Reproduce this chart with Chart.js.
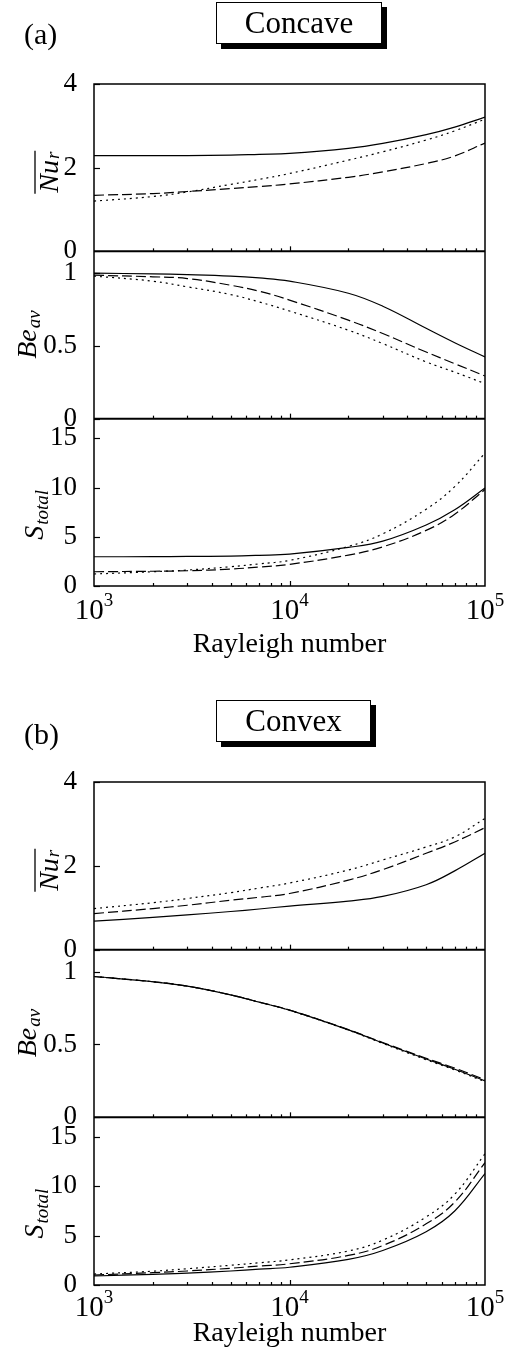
<!DOCTYPE html>
<html>
<head>
<meta charset="utf-8">
<script src="https://cdn.jsdelivr.net/npm/chart.js@4.4.0/dist/chart.umd.min.js"></script>
<style>
  body { margin: 0; background: #fff; width: 513px; height: 1357px; position: relative; overflow: hidden;
         font-family: 'Liberation Serif', 'Times New Roman', serif; color: #000; }
  .panel { position: absolute; left: 0; width: 513px; }
  .tag { position: absolute; left: 24px; font-size: 30px; line-height: 30px; }
  .box { position: absolute; left: 216px; height: 42px; line-height: 40px; border: 1px solid #000; background: #fff;
         box-shadow: 5px 5px 0 #000; font-size: 31px; text-align: center; box-sizing: border-box; }
</style>
</head>
<body>
<div class="panel" style="top:0;height:680px"><canvas id="chartA"></canvas></div>
<div class="panel" style="top:698px;height:659px"><canvas id="chartB"></canvas></div>
<div class="tag" style="top:19px">(a)</div>
<div class="box" style="top:2px;width:166px">Concave</div>
<div class="tag" style="top:719px">(b)</div>
<div class="box" style="top:700px;width:155px">Convex</div>

<script>
const rayleigh = [1000, 2000, 3000, 5000, 7000, 10000, 20000, 30000, 50000, 70000, 100000];

// (a) concave
const nuConcaveSolid  = [2.29, 2.29, 2.29, 2.30, 2.32, 2.34, 2.46, 2.58, 2.79, 2.97, 3.21];
const nuConcaveDashed = [1.34, 1.38, 1.43, 1.50, 1.55, 1.61, 1.77, 1.90, 2.10, 2.28, 2.59];
const nuConcaveDotted = [1.20, 1.31, 1.42, 1.60, 1.72, 1.86, 2.18, 2.38, 2.66, 2.88, 3.16];

const beConcaveSolid  = [1.00, 0.995, 0.99, 0.98, 0.967, 0.945, 0.862, 0.773, 0.621, 0.522, 0.424];
const beConcaveDashed = [0.986, 0.975, 0.963, 0.917, 0.876, 0.815, 0.677, 0.585, 0.458, 0.378, 0.293];
const beConcaveDotted = [0.98, 0.945, 0.906, 0.853, 0.802, 0.74, 0.608, 0.516, 0.39, 0.32, 0.241];

const sConcaveSolid  = [2.97, 2.98, 3.00, 3.04, 3.12, 3.24, 3.92, 4.56, 6.20, 7.75, 9.96];
const sConcaveDashed = [1.45, 1.50, 1.55, 1.72, 1.93, 2.20, 3.14, 3.98, 5.65, 7.30, 9.80];
const sConcaveDotted = [1.22, 1.45, 1.62, 1.96, 2.25, 2.60, 4.02, 5.30, 7.80, 10.1, 13.5];

// (b) convex
const nuConvexSolid  = [0.68, 0.77, 0.83, 0.91, 0.97, 1.04, 1.16, 1.27, 1.55, 1.88, 2.30];
const nuConvexDashed = [0.86, 0.98, 1.06, 1.18, 1.25, 1.34, 1.66, 1.91, 2.30, 2.57, 2.91];
const nuConvexDotted = [0.98, 1.12, 1.22, 1.36, 1.47, 1.59, 1.90, 2.14, 2.45, 2.69, 3.13];

const beConvexSolid  = [0.966, 0.93, 0.90, 0.84, 0.79, 0.735, 0.60, 0.51, 0.40, 0.33, 0.25];
const beConvexDashed = [0.966, 0.93, 0.90, 0.84, 0.79, 0.736, 0.602, 0.513, 0.405, 0.338, 0.258];
const beConvexDotted = [0.966, 0.93, 0.90, 0.84, 0.79, 0.734, 0.598, 0.507, 0.395, 0.325, 0.245];

const sConvexSolid  = [0.91, 1.08, 1.20, 1.42, 1.60, 1.80, 2.60, 3.50, 5.40, 7.50, 11.3];
const sConvexDashed = [1.01, 1.25, 1.42, 1.70, 1.92, 2.15, 3.00, 4.00, 6.20, 8.40, 12.4];
const sConvexDotted = [1.11, 1.40, 1.65, 2.00, 2.25, 2.55, 3.45, 4.55, 6.90, 9.20, 13.3];

// axis ticks
const xTickValues = [1000, 10000, 100000];
const yTicksNu = [0, 2, 4];
const yTicksBe = [0, 0.5, 1];
const yTicksS = [0, 5, 10, 15];

const serif = "'Liberation Serif', 'Times New Roman', serif";

// y titles: main text, subscript, overbar, baseline x, vertical shift, subscript shift
const yTitles = [
  { id: 'yNu', main: 'Nu', sub: 'r', bar: true, x: 58, dy: 5, subDy: 1 },
  { id: 'yBe', main: 'Be', sub: 'av', bar: false, x: 36, dy: 0, subDy: 4 },
  { id: 'yS', main: 'S', sub: 'total', bar: false, x: 43, dy: 13, subDy: 5 }
];

const axisDecor = {
  id: 'axisDecor',
  afterDraw(chart, args, o) {
    const ctx = chart.ctx;
    const a = chart.chartArea;
    const x = chart.scales.x;
    const ys = ['yNu', 'yBe', 'yS'].map(id => chart.scales[id]);
    ctx.save();
    ctx.strokeStyle = '#000';
    ctx.fillStyle = '#000';

    // inward ticks
    ctx.lineWidth = 1.2;
    ys.forEach(s => {
      s.ticks.forEach(t => {
        const py = Math.round(s.getPixelForValue(t.value)) + 0.5;
        ctx.beginPath(); ctx.moveTo(a.left, py); ctx.lineTo(a.left + 6, py); ctx.stroke();
      });
      for (let dec = 1000; dec < 100000; dec *= 10) {
        for (let m = 1; m < 10; m++) {
          const v = m * dec;
          if (v <= 1000) continue;
          const px = Math.round(x.getPixelForValue(v)) + 0.5;
          const len = m === 1 ? 5 : 3;
          ctx.beginPath(); ctx.moveTo(px, s.bottom); ctx.lineTo(px, s.bottom - len); ctx.stroke();
        }
      }
    });

    // frame and separators
    ctx.lineWidth = 1.5;
    ctx.strokeRect(a.left, a.top, a.right - a.left, a.bottom - a.top);
    ctx.lineWidth = 2;
    ys.slice(1).forEach(s => {
      ctx.beginPath(); ctx.moveTo(a.left, s.top); ctx.lineTo(a.right, s.top); ctx.stroke();
    });

    // x tick labels 10^n
    ctx.textBaseline = 'alphabetic';
    ctx.textAlign = 'left';
    xTickValues.forEach(v => {
      const exp = String(Math.round(Math.log10(v)));
      ctx.font = '29px ' + serif;
      const wb = ctx.measureText('10').width;
      ctx.font = '19px ' + serif;
      const we = ctx.measureText(exp).width;
      const x0 = x.getPixelForValue(v) - (wb + we) / 2;
      const base = a.bottom + o.tickY;
      ctx.font = '29px ' + serif;
      ctx.fillText('10', x0, base);
      ctx.font = '19px ' + serif;
      ctx.fillText(exp, x0 + wb, base - 13);
    });

    // x title
    ctx.font = '28px ' + serif;
    ctx.textAlign = 'center';
    ctx.fillText('Rayleigh number', (a.left + a.right) / 2, a.bottom + o.titleY);

    // y titles
    yTitles.forEach(t => {
      const s = chart.scales[t.id];
      ctx.save();
      ctx.translate(t.x, (s.top + s.bottom) / 2 + t.dy);
      ctx.rotate(-Math.PI / 2);
      ctx.textAlign = 'left';
      ctx.font = 'italic 28px ' + serif;
      const wm = ctx.measureText(t.main).width;
      ctx.font = 'italic 19px ' + serif;
      const ws = ctx.measureText(t.sub).width;
      const x0 = -(wm + ws) / 2;
      ctx.font = 'italic 28px ' + serif;
      ctx.fillText(t.main, x0, 0);
      ctx.font = 'italic 19px ' + serif;
      ctx.fillText(t.sub, x0 + wm + 1, t.subDy);
      if (t.bar) {
        ctx.lineWidth = 1.3;
        ctx.beginPath(); ctx.moveTo(x0 - 1, -23); ctx.lineTo(x0 + wm + ws + 2, -23); ctx.stroke();
      }
      ctx.restore();
    });
    ctx.restore();
  }
};

function line(data, axis, dash) {
  return {
    data: data,
    yAxisID: axis,
    borderColor: '#000',
    borderWidth: 1.2,
    borderDash: dash,
    pointRadius: 0,
    tension: 0.4,
    fill: false
  };
}

function yAxis(min, max, ticks, weight) {
  return {
    type: 'linear',
    position: 'left',
    stack: 'panel',
    stackWeight: 1,
    weight: weight,
    min: min,
    max: max,
    grid: { display: false },
    border: { display: false },
    ticks: {
      color: '#000',
      font: { family: serif, size: 27 },
      padding: 9,
      autoSkip: false,
      callback: v => String(v)
    },
    afterBuildTicks: s => { s.ticks = ticks.map(v => ({ value: v })); },
    afterFit: s => { s.width = 94; }
  };
}

function makePanel(id, nu, be, s, layout) {
  const solid = [], dashed = [10, 4], dotted = [2, 4];
  return new Chart(document.getElementById(id), {
    type: 'line',
    data: {
      labels: rayleigh,
      datasets: [
        line(nu[0], 'yNu', solid), line(nu[1], 'yNu', dashed), line(nu[2], 'yNu', dotted),
        line(be[0], 'yBe', solid), line(be[1], 'yBe', dashed), line(be[2], 'yBe', dotted),
        line(s[0], 'yS', solid), line(s[1], 'yS', dashed), line(s[2], 'yS', dotted)
      ]
    },
    options: {
      responsive: true,
      maintainAspectRatio: false,
      animation: false,
      events: [],
      layout: { padding: { top: 84, right: 28, left: 0, bottom: 0 } },
      scales: {
        x: {
          type: 'logarithmic',
          min: 1000,
          max: 100000,
          grid: { display: false },
          border: { display: false },
          ticks: { display: false },
          afterFit: sc => { sc.height = layout.xHeight; }
        },
        yNu: yAxis(0, 4, yTicksNu, 3),
        yBe: yAxis(0, 1.15, yTicksBe, 2),
        yS: yAxis(0, 17, yTicksS, 1)
      },
      plugins: {
        legend: { display: false },
        tooltip: { enabled: false },
        axisDecor: { tickY: layout.tickY, titleY: layout.titleY }
      }
    },
    plugins: [axisDecor]
  });
}

makePanel('chartA',
  [nuConcaveSolid, nuConcaveDashed, nuConcaveDotted],
  [beConcaveSolid, beConcaveDashed, beConcaveDotted],
  [sConcaveSolid, sConcaveDashed, sConcaveDotted],
  { xHeight: 94, tickY: 33, titleY: 66 });

makePanel('chartB',
  [nuConvexSolid, nuConvexDashed, nuConvexDotted],
  [beConvexSolid, beConvexDashed, beConvexDotted],
  [sConvexSolid, sConvexDashed, sConvexDotted],
  { xHeight: 72, tickY: 31, titleY: 56 });
</script>
</body>
</html>
